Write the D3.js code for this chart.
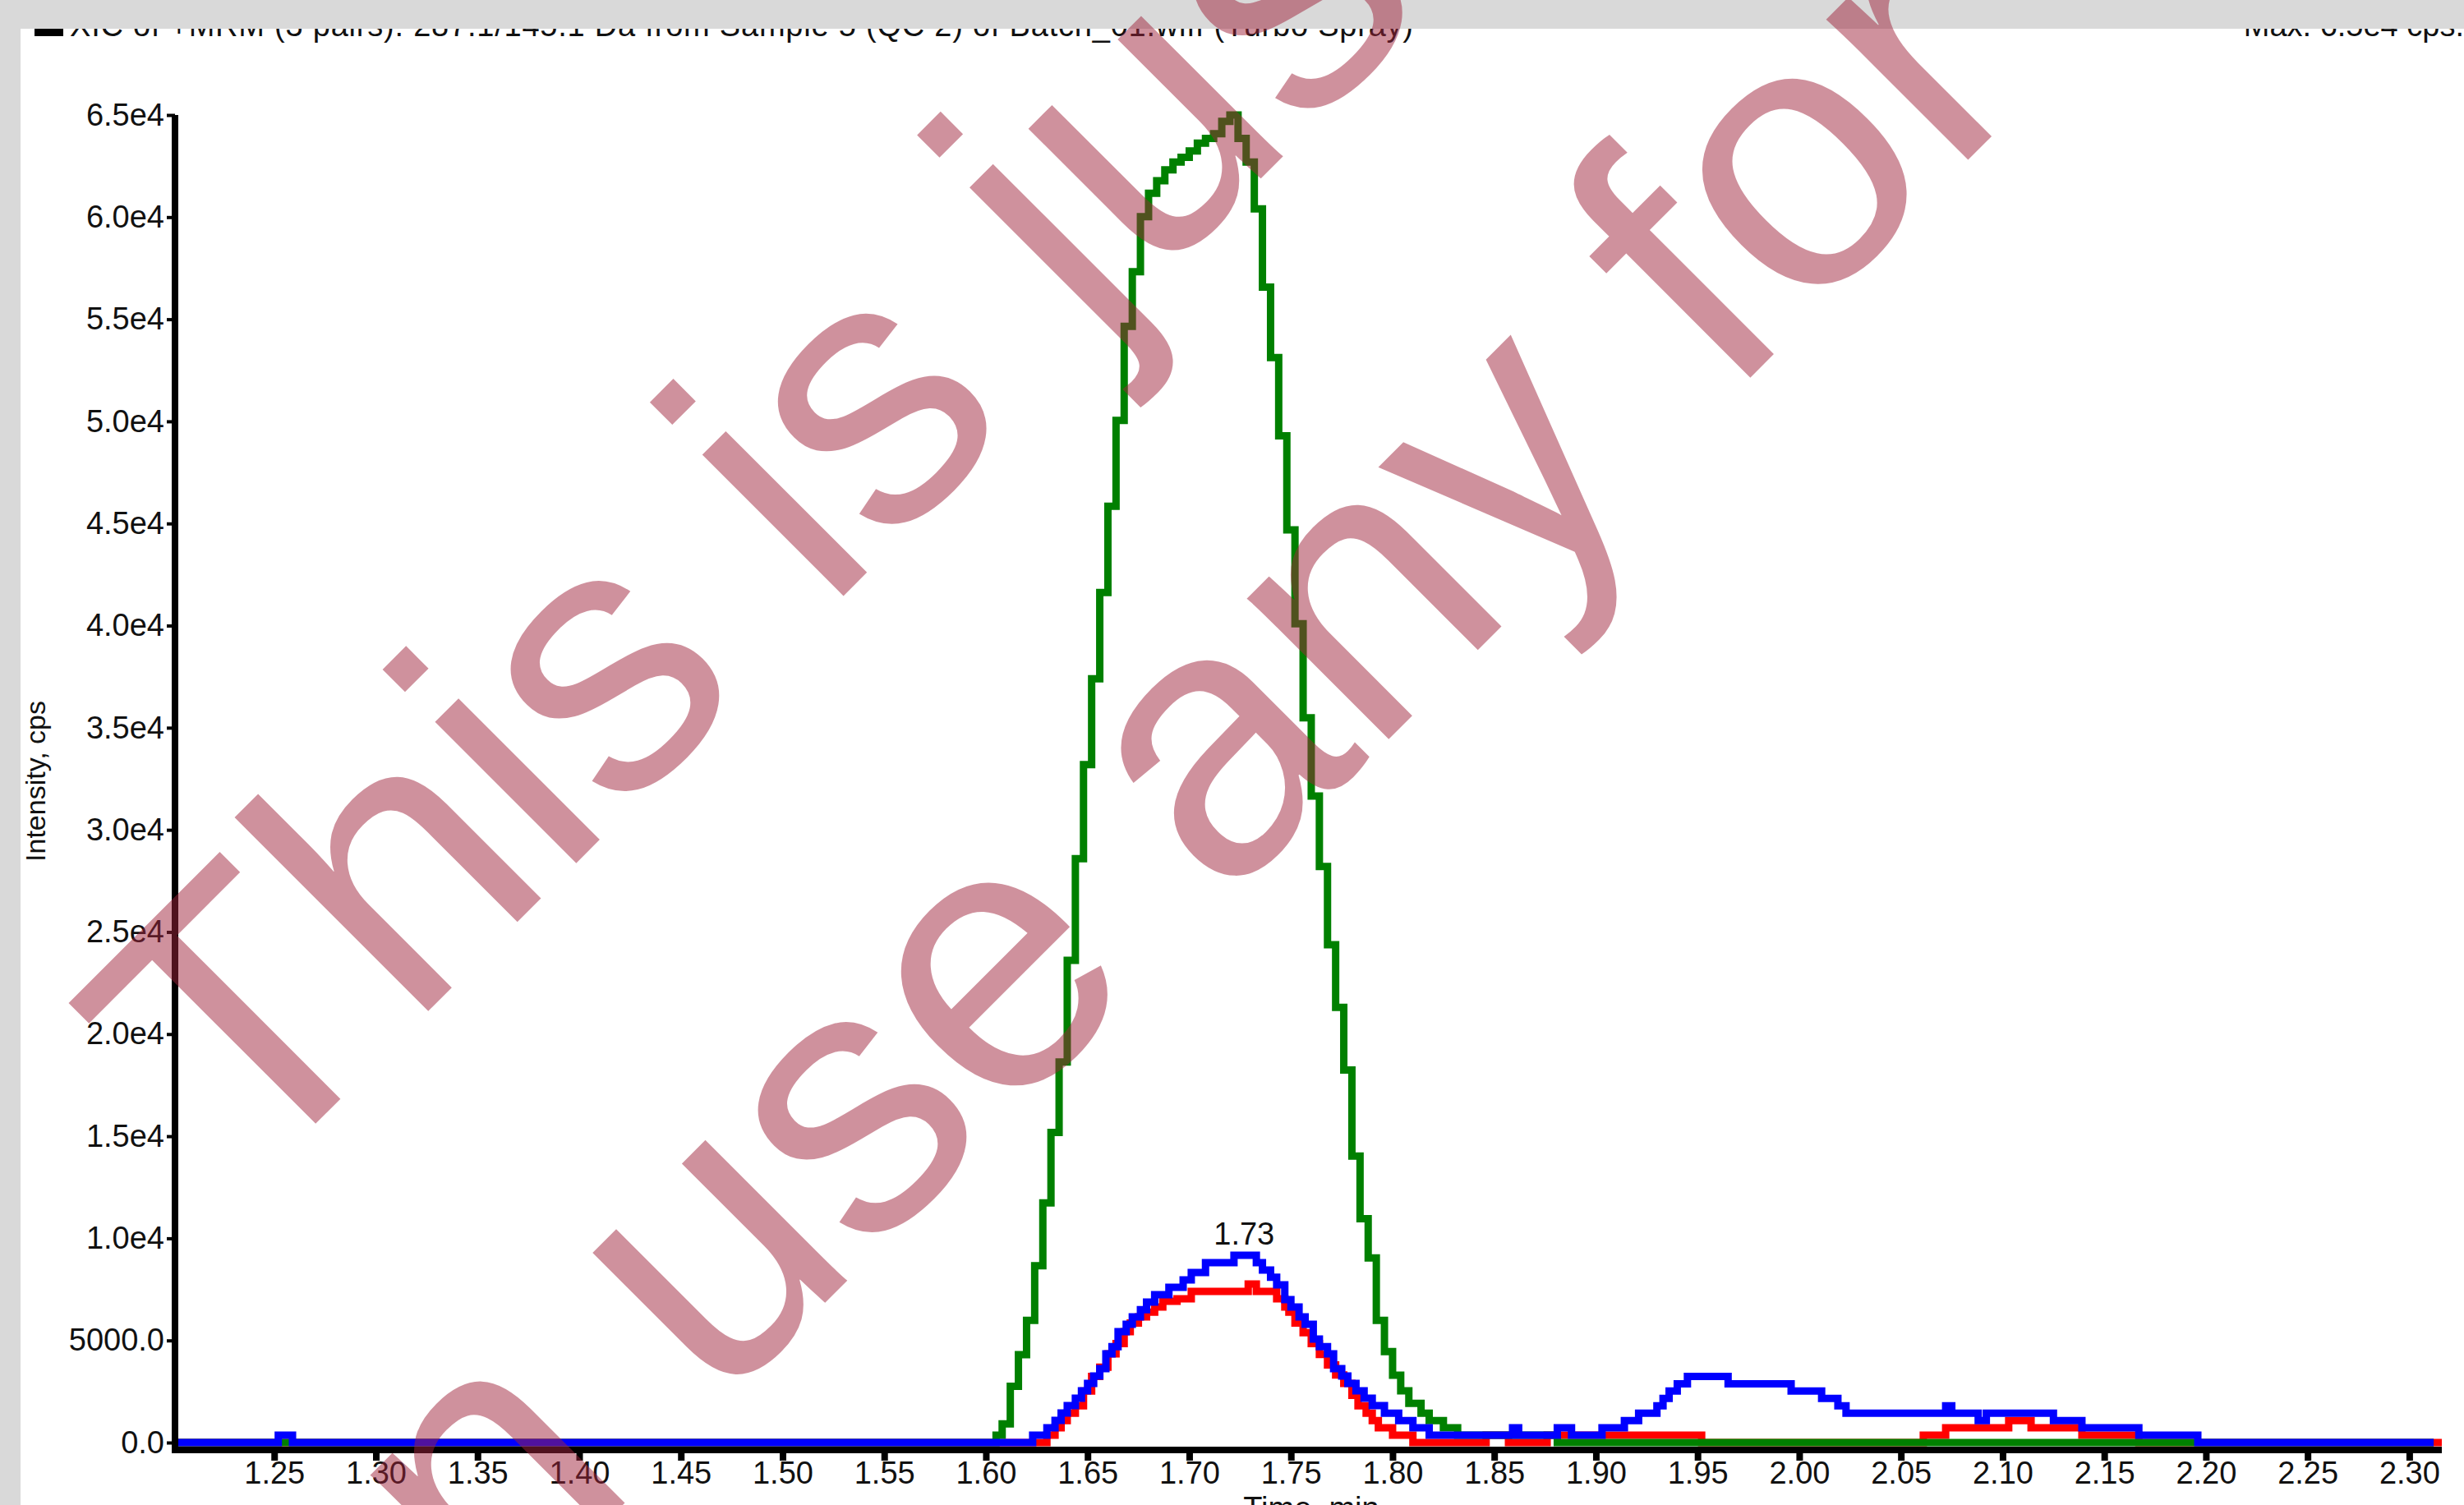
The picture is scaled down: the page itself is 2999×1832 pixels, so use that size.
<!DOCTYPE html>
<html>
<head>
<meta charset="utf-8">
<script src="https://cdn.jsdelivr.net/npm/d3@7"></script>
<style>
  body { margin: 0; background: #fff; }
  svg { display: block; font-family: 'Liberation Sans', Arial, sans-serif; }
</style>
</head>
<body>
<div id="chart"></div>
<script>
// tick values and labels
const xTicks = [1.25, 1.30, 1.35, 1.40, 1.45, 1.50, 1.55, 1.60, 1.65, 1.70, 1.75,
                1.80, 1.85, 1.90, 1.95, 2.00, 2.05, 2.10, 2.15, 2.20, 2.25, 2.30];
const yTicks = [0, 5000, 10000, 15000, 20000, 25000, 30000, 35000, 40000,
                45000, 50000, 55000, 60000, 65000];
const yTickLabels = ['0.0', '5000.0', '1.0e4', '1.5e4', '2.0e4', '2.5e4', '3.0e4',
                     '3.5e4', '4.0e4', '4.5e4', '5.0e4', '5.5e4', '6.0e4', '6.5e4'];

// series: [time (min), intensity (cps)]
const greenSeries = [
  [1.200, 0], [1.605, 360], [1.608, 920], [1.612, 2760], [1.616, 4300], [1.620, 5980],
  [1.624, 8660], [1.628, 11730], [1.632, 15180], [1.636, 18630], [1.640, 23610],
  [1.644, 28590], [1.648, 33190], [1.652, 37400], [1.656, 41620], [1.660, 45840],
  [1.664, 50050], [1.668, 54650], [1.672, 57330], [1.676, 60020], [1.680, 61170],
  [1.684, 61780], [1.688, 62320], [1.692, 62700], [1.696, 62930], [1.700, 63240],
  [1.704, 63620], [1.708, 63850], [1.712, 64080], [1.716, 64690], [1.720, 65000],
  [1.724, 63850], [1.728, 62700], [1.732, 60400], [1.736, 56570], [1.740, 53120],
  [1.744, 49290], [1.748, 44690], [1.752, 40090], [1.756, 35490], [1.760, 31660],
  [1.764, 28210], [1.768, 24370], [1.772, 21310], [1.776, 18240], [1.780, 14030],
  [1.784, 10960], [1.788, 9040], [1.792, 5980], [1.796, 4450], [1.800, 3300],
  [1.804, 2530], [1.808, 1920], [1.814, 1440], [1.818, 1080], [1.825, 720],
  [1.832, 360], [1.881, 0], [2.312, 0]
];
const blueSeries = [
  [1.200, 0], [1.252, 360], [1.259, 0], [1.623, 360], [1.630, 720], [1.634, 1090],
  [1.637, 1450], [1.640, 1810], [1.644, 2170], [1.647, 2530], [1.650, 2900],
  [1.653, 3260], [1.656, 3620], [1.659, 4340], [1.662, 4700], [1.665, 5430],
  [1.669, 5790], [1.672, 6150], [1.676, 6510], [1.679, 6880], [1.683, 7240],
  [1.690, 7600], [1.697, 7960], [1.701, 8330], [1.708, 8810], [1.722, 9170],
  [1.733, 8810], [1.736, 8450], [1.740, 8090], [1.743, 7720], [1.747, 7000],
  [1.750, 6640], [1.754, 6150], [1.757, 5790], [1.761, 5070], [1.764, 4700],
  [1.768, 4340], [1.771, 3620], [1.775, 3260], [1.778, 2900], [1.782, 2530],
  [1.786, 2170], [1.790, 1810], [1.796, 1440], [1.803, 1080], [1.810, 720],
  [1.818, 360], [1.859, 720], [1.862, 360], [1.881, 720], [1.888, 360],
  [1.903, 720], [1.914, 1080], [1.921, 1440], [1.930, 1800], [1.933, 2160],
  [1.936, 2520], [1.940, 2880], [1.945, 3240], [1.965, 2880], [1.996, 2520],
  [2.011, 2160], [2.019, 1800], [2.023, 1440], [2.072, 1800], [2.075, 1440],
  [2.088, 1080], [2.092, 1440], [2.125, 1080], [2.139, 720], [2.167, 360],
  [2.196, 0], [2.312, 0]
];
const redSeries = [
  [1.200, 0], [1.630, 360], [1.634, 720], [1.637, 1080], [1.640, 1440], [1.644, 1800],
  [1.648, 2520], [1.652, 3240], [1.656, 3690], [1.660, 4340], [1.664, 4850],
  [1.668, 5430], [1.671, 5850], [1.675, 6150], [1.679, 6390], [1.683, 6640],
  [1.687, 6920], [1.694, 7040], [1.701, 7400], [1.729, 7760], [1.733, 7400],
  [1.743, 7040], [1.747, 6640], [1.749, 6390], [1.752, 5850], [1.756, 5380],
  [1.760, 4850], [1.764, 4310], [1.768, 3800], [1.772, 3310], [1.776, 2900],
  [1.780, 2310], [1.783, 1800], [1.787, 1440], [1.790, 1080], [1.793, 720],
  [1.800, 360], [1.810, 0], [1.846, 360], [1.857, 0], [1.876, 360], [1.952, 0],
  [2.061, 360], [2.072, 720], [2.103, 1080], [2.114, 720], [2.139, 360],
  [2.167, 0], [2.316, 0]
];

const peakLabel = {time: 1.727, value: 9170, text: '1.73'};

const width = 2999, height = 1832;
const fontSize = 38;

let svg = d3.select('#chart')
            .append('svg')
            .attr('width', width)
            .attr('height', height);

svg.append('rect')
   .attr('width', width)
   .attr('height', height)
   .attr('fill', '#fff');

// scales
let xScale = d3.scaleLinear()
               .domain([1.2, 2.316])
               .range([210, 2972]);

let yScale = d3.scaleLinear()
               .domain([0, 65000])
               .range([1756, 140]);

// lines, drawn red first so blue sits on top
let line = d3.line()
             .x(d => xScale(d[0]))
             .y(d => yScale(d[1]))
             .curve(d3.curveStepAfter);

[[redSeries, '#ff0000'], [greenSeries, '#008000'], [blueSeries, '#0000ff']].forEach(function(s) {
    svg.append('path')
       .datum(s[0])
       .attr('d', line)
       .attr('fill', 'none')
       .attr('stroke', s[1])
       .attr('stroke-width', 9);
});

// x axis
let xAxis = svg.append('g')
               .attr('transform', 'translate(0, 1769)')
               .call(d3.axisBottom(xScale)
                       .tickValues(xTicks)
                       .tickFormat(d3.format('.2f'))
                       .tickSize(9)
                       .tickPadding(1)
                       .tickSizeOuter(0));
xAxis.select('.domain').remove();
xAxis.selectAll('line').attr('stroke', '#000').attr('stroke-width', 8);
xAxis.selectAll('text').attr('fill', '#111').style('font-size', fontSize + 'px')
     .style('font-family', "'Liberation Sans', Arial, sans-serif");

// y axis
let yAxis = svg.append('g')
               .attr('transform', 'translate(213, 0)')
               .call(d3.axisLeft(yScale)
                       .tickValues(yTicks)
                       .tickFormat((d, i) => yTickLabels[i])
                       .tickSize(10)
                       .tickPadding(3)
                       .tickSizeOuter(0));
yAxis.select('.domain').remove();
yAxis.selectAll('line').attr('stroke', '#000').attr('stroke-width', 4);
yAxis.selectAll('text').attr('fill', '#111').style('font-size', fontSize + 'px')
     .style('font-family', "'Liberation Sans', Arial, sans-serif");

// axis lines
svg.append('line')
   .attr('x1', 213).attr('x2', 213)
   .attr('y1', yScale(65000)).attr('y2', 1769)
   .attr('stroke', '#000').attr('stroke-width', 8);
svg.append('line')
   .attr('x1', 209).attr('x2', xScale(2.316))
   .attr('y1', 1765).attr('y2', 1765)
   .attr('stroke', '#000').attr('stroke-width', 8);

// peak label
svg.append('text')
   .attr('x', xScale(peakLabel.time))
   .attr('y', yScale(peakLabel.value) - 13)
   .attr('text-anchor', 'middle')
   .attr('fill', '#111')
   .style('font-size', fontSize + 'px')
   .text(peakLabel.text);

// axis titles
svg.append('text')
   .attr('x', 1596)
   .attr('y', 1849)
   .attr('text-anchor', 'middle')
   .attr('fill', '#111')
   .style('font-size', fontSize + 'px')
   .text('Time, min');

svg.append('text')
   .attr('transform', 'translate(55, 951) rotate(-90)')
   .attr('text-anchor', 'middle')
   .attr('fill', '#111')
   .style('font-size', '34px')
   .text('Intensity, cps');

// header line (top half is hidden under the grey band)
svg.append('rect')
   .attr('x', 42).attr('y', 35)
   .attr('width', 35).attr('height', 9)
   .attr('fill', '#000');
svg.append('text')
   .attr('x', 85)
   .attr('y', 44)
   .attr('fill', '#111')
   .attr('textLength', 1635)
   .attr('lengthAdjust', 'spacing')
   .style('font-size', fontSize + 'px')
   .text('XIC of +MRM (3 pairs): 287.1/145.1 Da from Sample 5 (QC 2) of Batch_01.wiff (Turbo Spray)');
svg.append('text')
   .attr('x', 2999)
   .attr('y', 44)
   .attr('text-anchor', 'end')
   .attr('fill', '#111')
   .style('font-size', fontSize + 'px')
   .text('Max. 6.5e4 cps.');

// grey window frame
svg.append('rect').attr('x', 0).attr('y', 0).attr('width', width).attr('height', 35).attr('fill', '#d9d9d9');
svg.append('rect').attr('x', 0).attr('y', 0).attr('width', 25).attr('height', height).attr('fill', '#d9d9d9');

// watermark
let wm = svg.append('g')
            .attr('fill', '#a0243c')
            .attr('fill-opacity', 0.5)
            .style('font-size', '460px')
            .style('font-family', "'Liberation Sans', Arial, sans-serif");
wm.append('text')
  .attr('transform', 'translate(300, 1452) rotate(-45)')
  .text('This is just a demo');
wm.append('text')
  .attr('transform', 'translate(872, 1718) rotate(-45)')
  .attr('text-anchor', 'end')
  .text('Can\u00a0');
wm.append('text')
  .attr('transform', 'translate(872, 1718) rotate(-45)')
  .text('use any for it');
</script>
</body>
</html>
